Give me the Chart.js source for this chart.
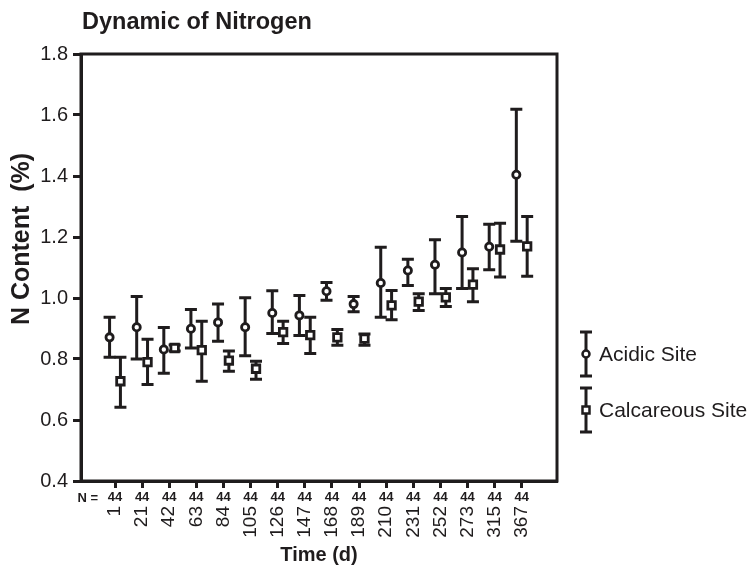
<!DOCTYPE html>
<html>
<head>
<meta charset="utf-8">
<script src="https://cdn.jsdelivr.net/npm/chart.js@4.4.1/dist/chart.umd.min.js"></script>
<style>
  body { margin: 0; background: #fff; }
  #wrap { width: 753px; height: 569px; }
</style>
</head>
<body>
<div id="wrap"><canvas id="grafico"></canvas></div>
<script>
// dias de coleta e tamanho da amostra
const dias = ['1', '21', '42', '63', '84', '105', '126', '147', '168', '189', '210', '231', '252', '273', '315', '367'];
const nAmostra = [44, 44, 44, 44, 44, 44, 44, 44, 44, 44, 44, 44, 44, 44, 44, 44];

// Acidic Site (media, limite superior, limite inferior)
const acidoMedia = [0.871, 0.904, 0.831, 0.899, 0.920, 0.904, 0.951, 0.943, 1.022, 0.980, 1.049, 1.090, 1.109, 1.149, 1.168, 1.404];
const acidoAlto  = [0.937, 1.005, 0.903, 0.962, 0.980, 1.001, 1.024, 1.008, 1.051, 1.005, 1.166, 1.127, 1.191, 1.267, 1.242, 1.619];
const acidoBaixo = [0.806, 0.800, 0.753, 0.836, 0.858, 0.811, 0.884, 0.877, 0.993, 0.955, 0.937, 1.041, 1.014, 1.031, 1.093, 1.186];

// Calcareous Site
const calcMedia = [0.727, 0.790, 0.836, 0.829, 0.795, 0.768, 0.888, 0.878, 0.871, 0.867, 0.976, 0.988, 1.002, 1.044, 1.159, 1.169];
const calcAlto  = [0.806, 0.865, 0.846, 0.924, 0.826, 0.793, 0.924, 0.937, 0.897, 0.882, 1.025, 1.014, 1.031, 1.096, 1.245, 1.267];
const calcBaixo = [0.642, 0.716, 0.826, 0.727, 0.760, 0.734, 0.851, 0.818, 0.845, 0.845, 0.929, 0.959, 0.972, 0.988, 1.069, 1.071];

const yTicks = [0.4, 0.6, 0.8, 1.0, 1.2, 1.4, 1.6, 1.8];

const preto = '#1f1c1d';
const fonte = '"Liberation Sans", Arial, Helvetica, sans-serif';
const xMin = -1.254;
const xMax = 16.30;

function pontos(medias, desloc) {
    return medias.map(function (v, i) { return { x: i + desloc, y: v }; });
}

function ticksDias(scale) {
    scale.ticks = dias.map(function (d, i) { return { value: i }; });
}

// barras de erro desenhadas pelas escalas do grafico
const barrasErro = {
    id: 'barrasErro',
    beforeDatasetsDraw(chart) {
        const ctx = chart.ctx;
        const x = chart.scales.x;
        const y = chart.scales.y;
        ctx.save();
        ctx.strokeStyle = preto;
        ctx.lineWidth = 3;
        chart.data.datasets.forEach(function (ds) {
            ds.data.forEach(function (p, i) {
                const px = x.getPixelForValue(p.x);
                const yA = y.getPixelForValue(ds.alto[i]);
                const yB = y.getPixelForValue(ds.baixo[i]);
                ctx.beginPath();
                ctx.moveTo(px, yA); ctx.lineTo(px, yB);
                ctx.moveTo(px - 6, yA); ctx.lineTo(px + 6, yA);
                ctx.moveTo(px - 6, yB); ctx.lineTo(px + 6, yB);
                ctx.stroke();
            });
        });
        ctx.restore();
    }
};

// titulo, moldura, "N =", titulo do eixo y e legenda
const extras = {
    id: 'extras',
    afterDraw(chart) {
        const ctx = chart.ctx;
        const area = chart.chartArea;
        ctx.save();
        ctx.strokeStyle = preto;
        ctx.lineWidth = 3;
        ctx.strokeRect(area.left, area.top, area.right - area.left, area.bottom - area.top);

        ctx.fillStyle = preto;
        ctx.font = 'bold 23.5px ' + fonte;
        ctx.textAlign = 'left';
        ctx.textBaseline = 'middle';
        ctx.fillText('Dynamic of Nitrogen', area.left + 1, 23);

        ctx.font = 'bold 13px ' + fonte;
        ctx.textAlign = 'right';
        ctx.fillText('N =', area.left + 17, area.bottom + 17);

        // titulo do eixo y
        ctx.save();
        ctx.translate(22, 239);
        ctx.rotate(-Math.PI / 2);
        ctx.font = 'bold 25px ' + fonte;
        ctx.textAlign = 'center';
        ctx.fillText('N Content  (%)', 0, 0);
        ctx.restore();

        // legenda
        const itens = [
            { texto: 'Acidic Site', forma: 'circulo', cy: 354 },
            { texto: 'Calcareous Site', forma: 'quadrado', cy: 410 }
        ];
        const lx = area.right + 29;
        itens.forEach(function (it) {
            ctx.lineWidth = 3;
            ctx.beginPath();
            ctx.moveTo(lx, it.cy - 22); ctx.lineTo(lx, it.cy + 22);
            ctx.moveTo(lx - 6, it.cy - 22); ctx.lineTo(lx + 6, it.cy - 22);
            ctx.moveTo(lx - 6, it.cy + 22); ctx.lineTo(lx + 6, it.cy + 22);
            ctx.stroke();
            ctx.lineWidth = 2.5;
            ctx.fillStyle = '#ffffff';
            ctx.beginPath();
            if (it.forma === 'circulo') {
                ctx.arc(lx, it.cy, 3.5, 0, Math.PI * 2);
            } else {
                ctx.rect(lx - 3.5, it.cy - 3.5, 7, 7);
            }
            ctx.fill();
            ctx.stroke();
            ctx.fillStyle = preto;
            ctx.font = '21px ' + fonte;
            ctx.textAlign = 'left';
            ctx.fillText(it.texto, lx + 13, it.cy + 1);
        });
        ctx.restore();
    }
};

const ctx = document.getElementById('grafico');
new Chart(ctx, {
    type: 'scatter',
    data: {
        datasets: [{
            label: 'Acidic Site',
            data: pontos(acidoMedia, -0.2),
            alto: acidoAlto,
            baixo: acidoBaixo,
            pointStyle: 'circle',
            pointRadius: 3.6,
            borderWidth: 2.8,
            borderColor: preto,
            backgroundColor: '#ffffff'
        }, {
            label: 'Calcareous Site',
            data: pontos(calcMedia, 0.2),
            alto: calcAlto,
            baixo: calcBaixo,
            pointStyle: 'rect',
            pointRadius: 5.3,
            borderWidth: 2.8,
            borderColor: preto,
            backgroundColor: '#ffffff'
        }]
    },
    options: {
        responsive: true,
        maintainAspectRatio: false,
        animation: false,
        layout: { padding: { top: 54, right: 196, left: 0, bottom: 0 } },
        plugins: {
            legend: { display: false },
            tooltip: { enabled: false }
        },
        scales: {
            x: {
                type: 'linear',
                position: 'bottom',
                min: xMin,
                max: xMax,
                afterBuildTicks: ticksDias,
                afterFit: function (s) { s.height = 24; },
                ticks: {
                    callback: function (v) { return String(nAmostra[v]); },
                    font: { family: fonte, size: 13, weight: 'bold' },
                    color: preto,
                    maxRotation: 0,
                    padding: 2
                },
                grid: { drawOnChartArea: false, tickLength: 7, tickWidth: 3, tickColor: preto },
                border: { width: 3, color: preto }
            },
            x2: {
                type: 'linear',
                position: 'bottom',
                min: xMin,
                max: xMax,
                afterBuildTicks: ticksDias,
                afterFit: function (s) { s.height = 64; },
                ticks: {
                    callback: function (v) { return dias[v]; },
                    font: { family: fonte, size: 19 },
                    color: preto,
                    minRotation: 90,
                    maxRotation: 90,
                    padding: 1
                },
                grid: { display: false, drawTicks: false },
                border: { display: false },
                title: {
                    display: true,
                    text: 'Time (d)',
                    color: preto,
                    font: { family: fonte, size: 20, weight: 'bold' },
                    padding: { top: 0, bottom: 2 }
                }
            },
            y: {
                min: 0.4,
                max: 1.8,
                afterBuildTicks: function (s) { s.ticks = yTicks.map(function (v) { return { value: v }; }); },
                afterFit: function (s) { s.width = 81; },
                ticks: {
                    callback: function (v) { return v.toFixed(1); },
                    font: { family: fonte, size: 20 },
                    color: preto,
                    padding: 5
                },
                grid: { drawOnChartArea: false, tickLength: 8, tickWidth: 3, tickColor: preto },
                border: { width: 3, color: preto }
            }
        }
    },
    plugins: [barrasErro, extras]
});
</script>
</body>
</html>
